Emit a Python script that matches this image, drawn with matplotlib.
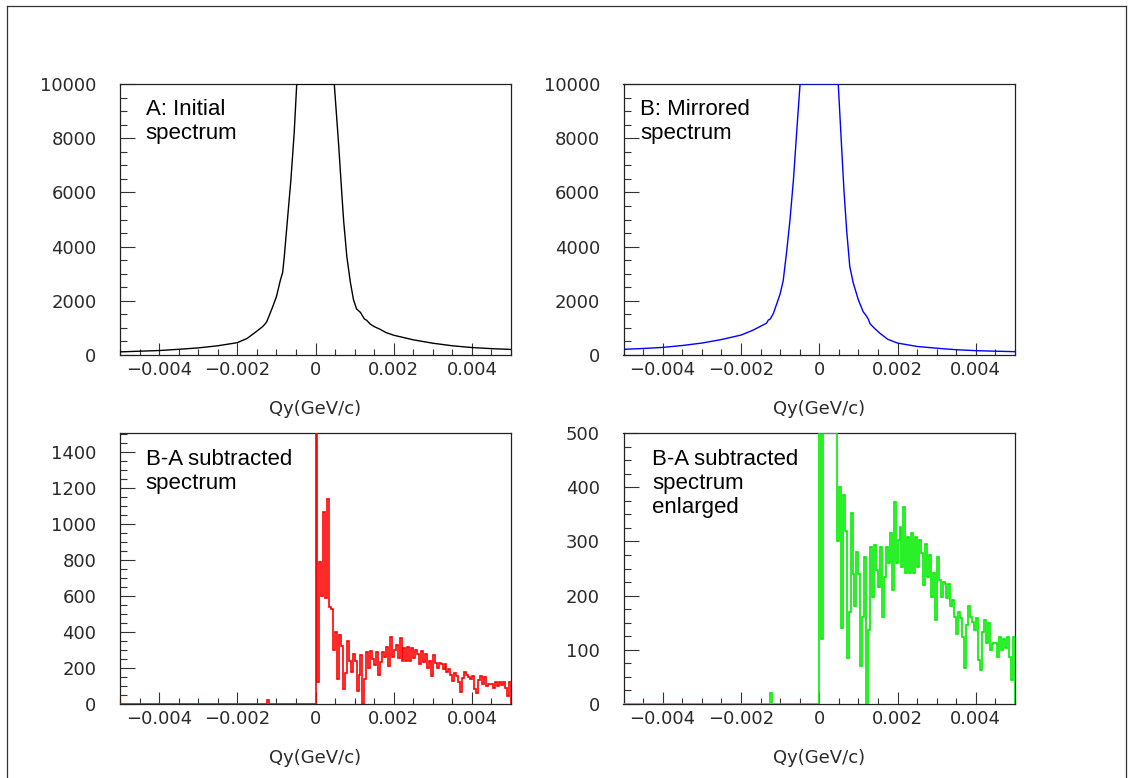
import matplotlib
matplotlib.use('Agg')
import matplotlib.pyplot as plt
from matplotlib.ticker import MultipleLocator, FuncFormatter
from matplotlib.lines import Line2D
import numpy as np

# A: initial spectrum (Qy in units of 1e-3 GeV/c)
a_qy = [-5.0, -4.5, -4.0, -3.5, -3.0, -2.5, -2.0, -1.75, -1.5, -1.35, -1.3, -1.25,
        -1.18, -1.1, -1.0, -0.9, -0.84, -0.8, -0.72, -0.63, -0.545, -0.48, 0.0,
        0.48, 0.59, 0.68, 0.72, 0.8, 0.89, 0.97, 1.05, 1.15, 1.2, 1.25, 1.31, 1.4,
        1.5, 1.65, 1.8, 2.0, 2.5, 3.0, 3.5, 4.0, 4.5, 5.0]
a_counts = [115, 140, 165, 210, 262, 340, 455, 610, 880, 1050, 1130, 1220,
            1470, 1760, 2150, 2750, 3050, 3600, 4950, 6450, 8200, 10000, 15000,
            10000, 7800, 5800, 4950, 3650, 2700, 2050, 1700, 1570, 1450, 1330, 1280, 1140,
            1050, 950, 830, 730, 560, 435, 340, 275, 235, 205]

# B: mirrored spectrum
b_qy = [-5.0, -4.5, -4.0, -3.5, -3.0, -2.5, -2.0, -1.7, -1.5, -1.35, -1.3, -1.25,
        -1.17, -1.0, -0.92, -0.83, -0.75, -0.66, -0.58, -0.49, 0.0,
        0.485, 0.57, 0.63, 0.7, 0.78, 0.87, 1.0, 1.12, 1.2, 1.25, 1.3, 1.4,
        1.55, 1.75, 2.0, 2.5, 3.0, 3.5, 4.0, 4.5, 5.0]
b_counts = [210, 240, 280, 350, 440, 570, 735, 910, 1060, 1170, 1290, 1330,
            1540, 2250, 2750, 3850, 4950, 6450, 8150, 10000, 15000,
            10000, 7700, 6100, 4600, 3260, 2650, 2030, 1600, 1450, 1330, 1150, 1000,
            800, 580, 440, 315, 250, 195, 160, 140, 123]

# B-A subtracted: negative side (variable bins) and positive side (0.05e-3 wide bins)
sub_neg_edges = [-0.005, -0.00125, -0.0012, 0.0]
sub_neg_counts = [0, 20, 0]
sub_pos_counts = [1700, 120, 790, 600, 1065, 590, 1140, 540, 530, 300,
                  400, 140, 385, 320, 85, 170, 352, 240, 180, 280,
                  240, 70, 161, 272, 0, 136, 290, 198, 293, 247,
                  216, 290, 161, 235, 290, 260, 315, 210, 373, 260,
                  302, 327, 253, 364, 241, 309, 241, 315, 241, 309,
                  253, 302, 278, 220, 296, 235, 275, 198, 241, 155,
                  272, 229, 198, 226, 222, 195, 222, 180, 192, 161,
                  130, 170, 158, 124, 66, 145, 180, 161, 152, 136,
                  158, 81, 63, 133, 155, 112, 149, 100, 110, 112,
                  112, 87, 124, 100, 120, 103, 124, 87, 44, 124]

sub_edges = np.concatenate([sub_neg_edges, np.linspace(0, 0.005, len(sub_pos_counts) + 1)[1:]])
sub_counts = np.array(sub_neg_counts + sub_pos_counts, dtype=float)

W, H = 1128, 778
fig = plt.figure(figsize=(W / 100, H / 100), dpi=100)

# outer frame
fig.add_artist(Line2D([7 / W, 7 / W], [0, 1 - 6 / H], color='#333333', lw=0.9))
fig.add_artist(Line2D([7 / W, 1126 / W], [1 - 6 / H, 1 - 6 / H], color='#333333', lw=0.9))
fig.add_artist(Line2D([1126 / W, 1126 / W], [0, 1 - 6 / H], color='#333333', lw=0.9))


def xfmt(v, pos):
    if abs(v) < 1e-12:
        return '0'
    return ('%.3f' % v).replace('-', '\u2212')


def make_axes(left, right, top, bottom, ymax, ymajor, yminor):
    ax = fig.add_axes([left / W, 1 - bottom / H, (right - left) / W, (bottom - top) / H])
    ax.set_xlim(-0.005, 0.005)
    ax.set_ylim(0, ymax)
    ax.xaxis.set_major_locator(MultipleLocator(0.002))
    ax.xaxis.set_minor_locator(MultipleLocator(0.0005))
    ax.xaxis.set_major_formatter(FuncFormatter(xfmt))
    ax.yaxis.set_major_locator(MultipleLocator(ymajor))
    ax.yaxis.set_minor_locator(MultipleLocator(yminor))
    ax.yaxis.set_major_formatter(FuncFormatter(lambda v, p: '%d' % round(v)))
    ax.tick_params(axis='both', which='both', direction='in', color='#333333',
                   labelsize=13, labelcolor='#2a2a2a', width=0.8)
    ax.tick_params(axis='y', which='major', length=11, pad=17)
    ax.tick_params(axis='y', which='minor', length=5)
    ax.tick_params(axis='x', which='major', length=8.5, pad=4)
    ax.tick_params(axis='x', which='minor', length=4)
    for s in ax.spines.values():
        s.set_linewidth(0.9)
        s.set_color('#222222')
    ax.set_xlabel('Qy(GeV/c)', fontsize=13, color='#2a2a2a')
    ax.xaxis.label.set_va('center')
    ax.xaxis.set_label_coords(0.5, -54 / (bottom - top))
    return ax


text_font = ['Liberation Sans', 'DejaVu Sans']

# A: initial
ax = make_axes(120, 511, 84, 355, 10000, 2000, 500)
ax.plot(np.array(a_qy) * 1e-3, np.minimum(a_counts, 10000), color='black', lw=1.0, zorder=3)
ax.text(0.066, 0.945, 'A: Initial\nspectrum', transform=ax.transAxes, ha='left', va='top',
        fontsize=16, family=text_font)

# B: mirrored
ax = make_axes(623.5, 1015, 84, 355, 10000, 2000, 500)
ax.plot(np.array(b_qy) * 1e-3, np.minimum(b_counts, 10000), color='#0000ff', lw=1.0, zorder=3)
ax.text(0.042, 0.945, 'B: Mirrored\nspectrum', transform=ax.transAxes, ha='left', va='top',
        fontsize=16, family=text_font)

# C: B-A subtracted
ax = make_axes(120, 511, 433, 704, 1504, 200, 50)
ax.stairs(np.minimum(sub_counts, 1504), sub_edges, color='#ff0000', lw=1.2, zorder=3)
ax.text(0.066, 0.942, 'B-A subtracted\nspectrum', transform=ax.transAxes, ha='left', va='top',
        fontsize=16, family=text_font)

# D: B-A subtracted, enlarged
ax = make_axes(623.5, 1015, 433, 704, 500, 100, 25)
ax.stairs(np.minimum(sub_counts, 500), sub_edges, color='#00ee00', lw=1.2, zorder=3)
ax.text(0.073, 0.942, 'B-A subtracted\nspectrum\nenlarged', transform=ax.transAxes, ha='left',
        va='top', fontsize=16, family=text_font)

fig.savefig('out.png', dpi=100)
